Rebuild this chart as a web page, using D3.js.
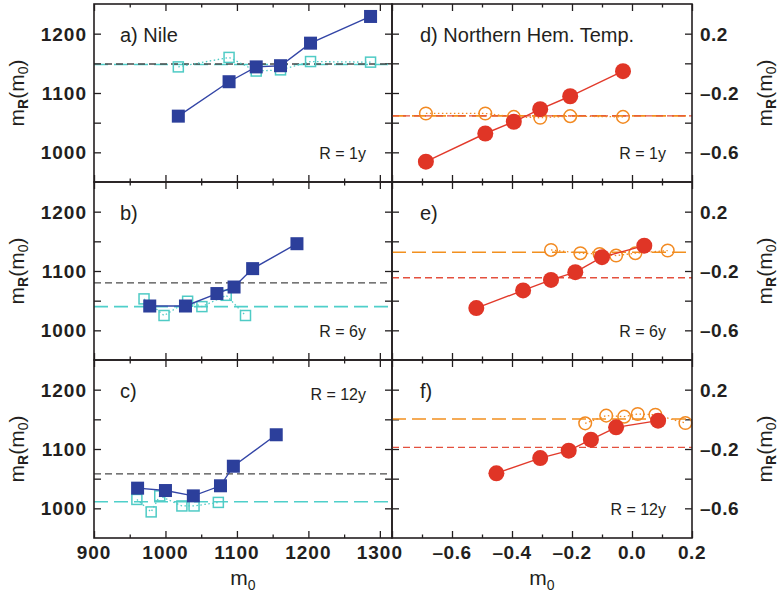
<!DOCTYPE html>
<html><head><meta charset="utf-8">
<script src="https://cdn.jsdelivr.net/npm/d3@7"></script>
<style>
body{margin:0;background:#fff;}
text{font-family:"Liberation Sans",Arial,Helvetica,sans-serif;fill:#231f20;}
</style></head>
<body><svg id="c" width="778" height="599"></svg>
<script>
// ---------- data ----------
// Nile (left column)
const nileR1_m0      = [1018, 1089, 1127, 1161, 1203, 1287];
const nileR1_mR      = [1061, 1119, 1144, 1146, 1184, 1229];
const nileR1_open_m0 = [1018, 1089, 1127, 1161, 1203, 1287];
const nileR1_open_mR = [1144, 1160, 1137, 1139, 1153, 1152];
const nileR1_means   = [1149, 1148]; // [dashed dark, dashed cyan]

const nileR6_m0      = [978, 1028, 1072, 1096, 1122, 1184];
const nileR6_mR      = [1041, 1041, 1062, 1073, 1104, 1146];
const nileR6_open_m0 = [970, 998, 1031, 1051, 1085, 1112];
const nileR6_open_mR = [1053, 1025, 1049, 1040, 1059, 1025];
const nileR6_means   = [1080, 1040];

const nileR12_m0      = [961, 1000, 1039, 1077, 1095, 1155];
const nileR12_mR      = [1034, 1030, 1021, 1038, 1071, 1124];
const nileR12_open_m0 = [960, 980, 992, 1023, 1040, 1074];
const nileR12_open_mR = [1015, 994, 1021, 1004, 1004, 1010];
const nileR12_means   = [1058, 1011];

// Northern Hemisphere temperature (right column)
const nhR1_m0      = [-0.687, -0.489, -0.394, -0.306, -0.206, -0.030];
const nhR1_mR      = [-0.663, -0.473, -0.394, -0.309, -0.222, -0.053];
const nhR1_open_m0 = [-0.687, -0.489, -0.394, -0.306, -0.206, -0.030];
const nhR1_open_mR = [-0.338, -0.338, -0.361, -0.367, -0.356, -0.361];
const nhR1_means   = [-0.354, -0.354]; // [dashed red, dashed orange]

const nhR6_m0      = [-0.519, -0.363, -0.270, -0.189, -0.100, 0.041];
const nhR6_mR      = [-0.450, -0.331, -0.260, -0.208, -0.107, -0.029];
const nhR6_open_m0 = [-0.270, -0.172, -0.108, -0.053, 0.011, 0.119];
const nhR6_open_mR = [-0.058, -0.080, -0.085, -0.096, -0.080, -0.062];
const nhR6_means   = [-0.246, -0.074];

const nhR12_m0      = [-0.452, -0.306, -0.211, -0.137, -0.053, 0.087];
const nhR12_mR      = [-0.364, -0.261, -0.211, -0.137, -0.054, -0.009];
const nhR12_open_m0 = [-0.156, -0.086, -0.026, 0.019, 0.078, 0.178];
const nhR12_open_mR = [-0.027, 0.025, 0.018, 0.036, 0.031, -0.025];
const nhR12_means   = [-0.189, 0.002];

const panelLabels = ["a) Nile", "b)", "c)", "d) Northern Hem. Temp.", "e)", "f)"];
const rLabels = ["R = 1y", "R = 6y", "R = 12y"];
const nileXTicks = [900, 1000, 1100, 1200, 1300];
const nileYTicks = [1000, 1100, 1200];
const nhXTicks = [-0.6, -0.4, -0.2, 0.0, 0.2];
const nhYTicks = [0.2, -0.2, -0.6];

// ---------- layout ----------
const svg = d3.select("#c");
const colX = [[94, 392], [392, 692]];
const rowY = [[4, 182], [182, 360], [360, 538]];
const xDomains = [[900, 1317], [-0.8, 0.2]];
const yDomains = [[950, 1250], [-0.8, 0.4]];

const nileSets = [
  [nileR1_m0, nileR1_mR, nileR1_open_m0, nileR1_open_mR, nileR1_means],
  [nileR6_m0, nileR6_mR, nileR6_open_m0, nileR6_open_mR, nileR6_means],
  [nileR12_m0, nileR12_mR, nileR12_open_m0, nileR12_open_mR, nileR12_means]];
const nhSets = [
  [nhR1_m0, nhR1_mR, nhR1_open_m0, nhR1_open_mR, nhR1_means],
  [nhR6_m0, nhR6_mR, nhR6_open_m0, nhR6_open_mR, nhR6_means],
  [nhR12_m0, nhR12_mR, nhR12_open_m0, nhR12_open_mR, nhR12_means]];

const fmtNH = v => (v < 0 ? "\u2013" : "") + Math.abs(v).toFixed(1);

function tickAxis(g, axisFn, scale, values, size) {
  g.call(axisFn(scale).tickValues(values).tickSize(size).tickFormat(""))
   .call(s => s.select(".domain").remove())
   .call(s => s.selectAll("line").attr("stroke", "#231f20").attr("stroke-width", 1.3));
}

for (let col = 0; col < 2; col++) {
  for (let row = 0; row < 3; row++) {
    const [x0, x1] = colX[col], [y0, y1] = rowY[row];
    const x = d3.scaleLinear().domain(xDomains[col]).range([x0, x1]);
    const y = d3.scaleLinear().domain(yDomains[col]).range([y1, y0]);
    const set = (col === 0 ? nileSets : nhSets)[row];
    const [fx, fy, ox, oy, means] = set;
    const g = svg.append("g");

    // minor/major ticks (inward, all sides)
    const xd = xDomains[col];
    const xMinorStep = col === 0 ? 50 : 0.1, xMajorStep = col === 0 ? 100 : 0.2;
    const xMinor = d3.range(Math.ceil(xd[0] / xMinorStep - 1e-9), Math.floor(xd[1] / xMinorStep + 1e-9) + 1).map(i => +(i * xMinorStep).toFixed(3));
    const xMaj = xMinor.filter(v => Math.abs(v / xMajorStep - Math.round(v / xMajorStep)) < 1e-6);
    const xMin = xMinor.filter(v => !xMaj.includes(v));
    const yStep = col === 0 ? 50 : 0.2;
    const yd = yDomains[col];
    const yT = d3.range(Math.ceil(yd[0] / yStep + 1e-9), Math.floor(yd[1] / yStep - 1e-9) + 1).map(i => +(i * yStep).toFixed(3));

    tickAxis(g.append("g").attr("transform", `translate(0,${y1})`), d3.axisTop, x, xMaj, 7);
    tickAxis(g.append("g").attr("transform", `translate(0,${y1})`), d3.axisTop, x, xMin, 3.5);
    tickAxis(g.append("g").attr("transform", `translate(0,${y0})`), d3.axisBottom, x, xMaj, 7);
    tickAxis(g.append("g").attr("transform", `translate(0,${y0})`), d3.axisBottom, x, xMin, 3.5);
    tickAxis(g.append("g").attr("transform", `translate(${x0},0)`), d3.axisRight, y, yT, 7);
    tickAxis(g.append("g").attr("transform", `translate(${x1},0)`), d3.axisLeft, y, yT, 7);

    const c = col === 0
      ? {dashA: "#4a4a4a", dashB: "#4fcfca", fill: "#2c3f9b", line: "#3345a6", open: "#4fcbc5"}
      : {dashA: "#e4503e", dashB: "#f2901f", fill: "#e03526", line: "#e23a2b", open: "#f28a22"};

    // mean lines
    g.append("line").attr("x1", x0).attr("x2", x1).attr("y1", y(means[1])).attr("y2", y(means[1]))
      .attr("stroke", c.dashB).attr("stroke-width", 1.6).attr("stroke-dasharray", "14,6");
    g.append("line").attr("x1", x0).attr("x2", x1).attr("y1", y(means[0])).attr("y2", y(means[0]))
      .attr("stroke", c.dashA).attr("stroke-width", 1.4).attr("stroke-dasharray", "7,4");

    // open markers with dotted line
    const openPts = ox.map((v, i) => [v, oy[i]]);
    g.append("path").datum(openPts)
      .attr("d", d3.line().x(d => x(d[0])).y(d => y(d[1])))
      .attr("fill", "none").attr("stroke", c.open).attr("stroke-width", 1.3).attr("stroke-dasharray", "1.5,2.5");
    if (col === 0) {
      g.selectAll(null).data(openPts).join("rect")
        .attr("x", d => x(d[0]) - 5).attr("y", d => y(d[1]) - 5).attr("width", 10).attr("height", 10)
        .attr("fill", "none").attr("stroke", c.open).attr("stroke-width", 1.5);
    } else {
      g.selectAll(null).data(openPts).join("circle")
        .attr("cx", d => x(d[0])).attr("cy", d => y(d[1])).attr("r", 6.3)
        .attr("fill", "none").attr("stroke", c.open).attr("stroke-width", 1.5);
    }

    // filled markers with line
    const fillPts = fx.map((v, i) => [v, fy[i]]);
    g.append("path").datum(fillPts)
      .attr("d", d3.line().x(d => x(d[0])).y(d => y(d[1])))
      .attr("fill", "none").attr("stroke", c.line).attr("stroke-width", 1.4);
    if (col === 0) {
      g.selectAll(null).data(fillPts).join("rect")
        .attr("x", d => x(d[0]) - 6.5).attr("y", d => y(d[1]) - 6.5).attr("width", 13).attr("height", 13)
        .attr("fill", c.fill);
    } else {
      g.selectAll(null).data(fillPts).join("circle")
        .attr("cx", d => x(d[0])).attr("cy", d => y(d[1])).attr("r", 8)
        .attr("fill", c.fill);
    }

    // frame
    g.append("rect").attr("x", x0).attr("y", y0).attr("width", x1 - x0).attr("height", y1 - y0)
      .attr("fill", "none").attr("stroke", "#231f20").attr("stroke-width", 1.6);

    // panel label
    g.append("text").attr("x", col === 0 ? 120 : 420).attr("y", y0 + 38)
      .attr("font-size", 20).text(panelLabels[col * 3 + row]);
    // R label
    const rTop = (col === 0 && row === 2);
    g.append("text").attr("x", x1 - 26).attr("y", rTop ? y0 + 40 : y0 + 155)
      .attr("text-anchor", "end").attr("font-size", 16).text(rLabels[row]);

    // y tick labels
    const yLab = col === 0 ? nileYTicks : nhYTicks;
    g.selectAll(null).data(yLab).join("text")
      .attr("x", col === 0 ? x0 - 7 : x1 + 8).attr("y", d => y(d)).attr("dy", "0.36em")
      .attr("text-anchor", col === 0 ? "end" : "start")
      .attr("font-size", 19).attr("font-weight", "bold").attr("letter-spacing", col === 0 ? 1 : 0.5)
      .text(d => col === 0 ? d : fmtNH(d));

    // y axis title
    const tx = col === 0 ? 24 : 772, ty = (y0 + y1) / 2;
    const t = g.append("text").attr("transform", `translate(${tx},${ty}) rotate(-90)`)
      .attr("text-anchor", "middle").attr("font-size", 21);
    t.append("tspan").text("m");
    t.append("tspan").attr("font-size", 14).attr("font-weight", "bold").attr("dy", 4).text("R");
    t.append("tspan").attr("dy", -4).text("(m");
    t.append("tspan").attr("font-size", 14).attr("dy", 4).text("0");
    t.append("tspan").attr("dy", -4).text(")");

    // x tick labels on bottom row
    if (row === 2) {
      const xLab = col === 0 ? nileXTicks : nhXTicks;
      g.selectAll(null).data(xLab).join("text")
        .attr("x", d => x(d)).attr("y", y1 + 21).attr("text-anchor", "middle")
        .attr("font-size", 19).attr("font-weight", "bold").attr("letter-spacing", col === 0 ? 1 : 0.5)
        .text(d => col === 0 ? d : fmtNH(d));
      const xt = g.append("text").attr("x", (x0 + x1) / 2).attr("y", 585)
        .attr("text-anchor", "middle").attr("font-size", 21);
      xt.append("tspan").text("m");
      xt.append("tspan").attr("font-size", 14).attr("dy", 5).text("0");
    }
  }
}
</script></body></html>
